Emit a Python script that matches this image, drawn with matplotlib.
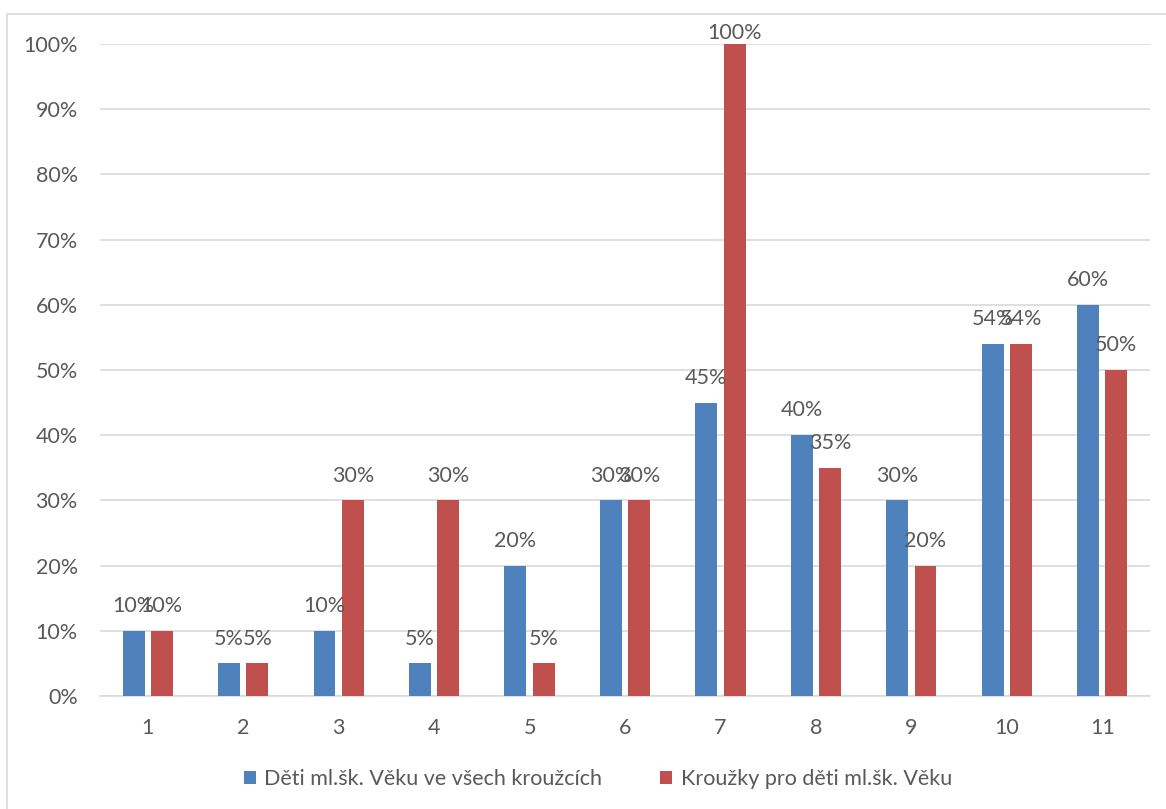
import matplotlib
matplotlib.use("Agg")
import matplotlib.pyplot as plt
import numpy as np
from matplotlib.patches import Rectangle

categories = ["1", "2", "3", "4", "5", "6", "7", "8", "9", "10", "11"]
series_blue = [10, 5, 10, 5, 20, 30, 45, 40, 30, 54, 60]
series_red = [10, 5, 30, 30, 5, 30, 100, 35, 20, 54, 50]
name_blue = "Děti ml.šk. Věku ve všech kroužcích"
name_red = "Kroužky pro děti ml.šk. Věku"

plt.rcParams['font.family'] = ['Lato', 'DejaVu Sans']
txt = '#595959'
fs = 15.5

fig = plt.figure(figsize=(11.66, 8.09), dpi=100)
fig.patches.append(Rectangle((7/1166, -0.01), 1.02, 1 - 14/809 + 0.01, transform=fig.transFigure,
                             fill=False, edgecolor='#d9d9d9', linewidth=1.2))
ax = fig.add_axes([100/1166, 1 - 696/809, 1050/1166, (696 - 44)/809])

x = np.arange(len(categories))
w = 0.23
off = 0.148
b1 = ax.bar(x - off, series_blue, w, color='#4f81bd', label=name_blue, zorder=3)
b2 = ax.bar(x + off, series_red, w, color='#c0504d', label=name_red, zorder=3)

for rects, vals in ((b1, series_blue), (b2, series_red)):
    for r, v in zip(rects, vals):
        ypos = min(v + 3.8, 101.7)
        ax.text(r.get_x() + r.get_width() / 2, ypos, f"{v}%", ha='center', va='center',
                fontsize=fs, color=txt, zorder=4, clip_on=False)

ax.set_xlim(-0.5, len(categories) - 0.5)
ax.set_ylim(0, 100)
ax.set_yticks(np.arange(0, 101, 10))
ax.set_yticklabels([f"{v}%" for v in range(0, 101, 10)])
ax.set_xticks(x)
ax.set_xticklabels(categories)
ax.tick_params(axis='both', length=0, labelsize=fs, labelcolor=txt)
ax.tick_params(axis='y', pad=16)
ax.tick_params(axis='x', pad=16)
ax.yaxis.grid(True, color='#d9d9d9', linewidth=1.2, zorder=0)
for s in ['top', 'right', 'left']:
    ax.spines[s].set_visible(False)
ax.spines['bottom'].set_color('#d9d9d9')
ax.spines['bottom'].set_linewidth(1.2)

fig.legend(handles=[b1, b2], loc='center', bbox_to_anchor=(598/1166, 1 - 779/809), ncol=2,
           frameon=False, fontsize=fs, labelcolor=txt, handlelength=0.55, handleheight=0.55,
           handletextpad=0.4, columnspacing=2.7)

fig.savefig("out.png", dpi=100)
